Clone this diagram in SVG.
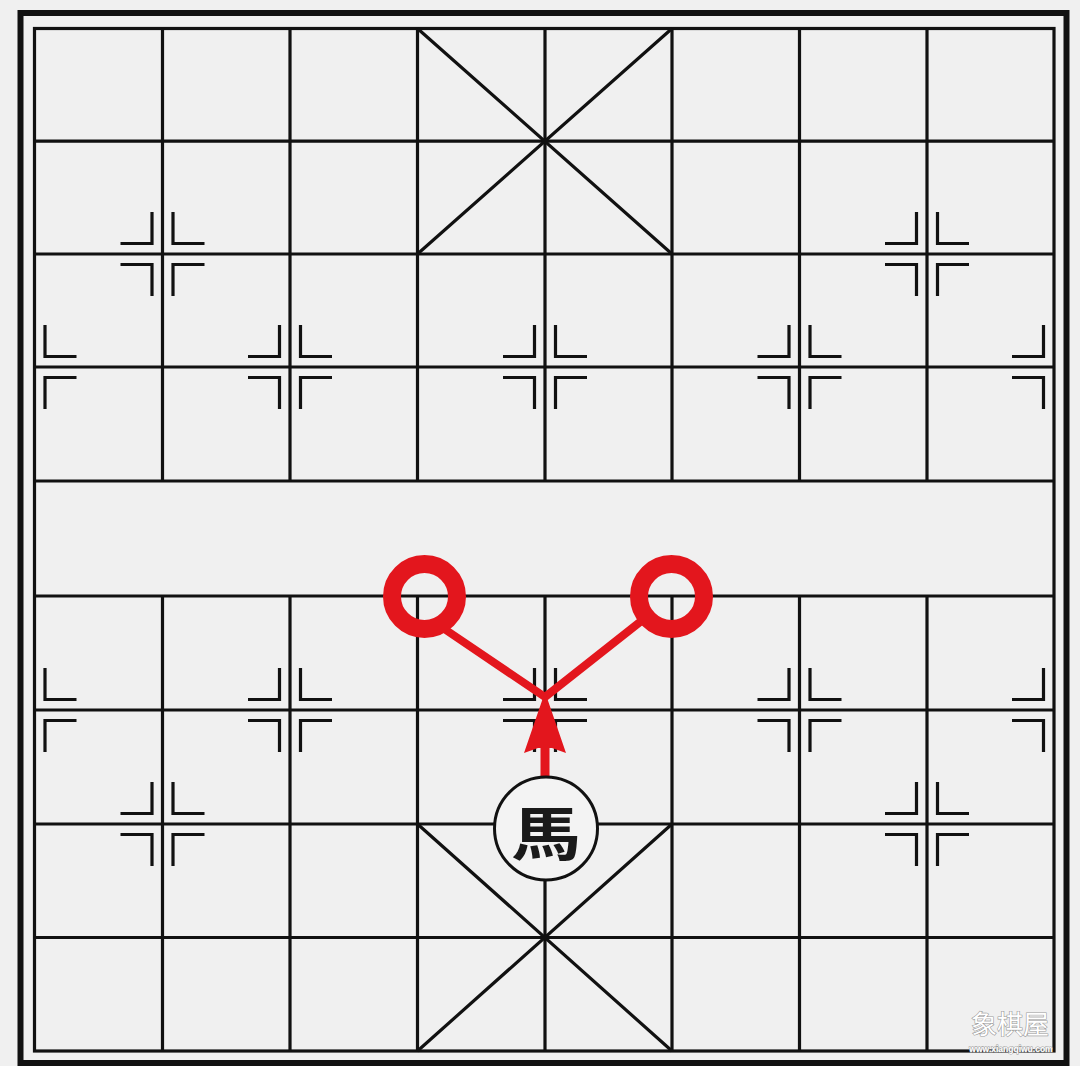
<svg xmlns="http://www.w3.org/2000/svg" width="1080" height="1066" viewBox="0 0 1080 1066">
  <style>
    .ln{stroke:#111;stroke-width:3.2;fill:none;stroke-linecap:butt}
    .mk{stroke:#111;stroke-width:3.2;fill:none}
    .red{stroke:#e3161d;fill:none}
    .wm{font-family:"Noto Sans CJK SC","Noto Sans",sans-serif;fill:#ffffff;stroke:#9a9a9a;paint-order:stroke}
  </style>
  <defs>
    <path id="mkL" class="mk" d="M-42 -10.5H-10.5V-42M-42 10.5H-10.5V42"/>
    <path id="mkR" class="mk" d="M42 -10.5H10.5V-42M42 10.5H10.5V42"/>
  </defs>
  <rect width="1080" height="1066" fill="#f0f0f0"/>
  <g id="board">
    <rect x="20.5" y="13" width="1046" height="1050" fill="none" stroke="#111" stroke-width="6"/>
    <rect x="34.5" y="28.5" width="1019.5" height="1022.5" class="ln"/>
    <g id="rows">
      <path class="ln" d="M34.5 141.2H1054M34.5 254H1054M34.5 367H1054M34.5 481H1054M34.5 596H1054M34.5 710H1054M34.5 824H1054M34.5 937.5H1054"/>
    </g>
    <g id="cols">
      <path class="ln" d="M162.5 28.5V481M290 28.5V481M417.5 28.5V481M545 28.5V481M672 28.5V481M799.5 28.5V481M927 28.5V481"/>
      <path class="ln" d="M162.5 596V1051M290 596V1051M417.5 596V1051M545 596V1051M672 596V1051M799.5 596V1051M927 596V1051"/>
    </g>
    <g id="palaces">
      <path class="ln" d="M417.5 28.5L672 254M672 28.5L417.5 254M417.5 824L672 1051M672 824L417.5 1051"/>
    </g>
    <g id="markers">
      <use href="#mkL" x="162.5" y="254"/><use href="#mkR" x="162.5" y="254"/>
      <use href="#mkL" x="927" y="254"/><use href="#mkR" x="927" y="254"/>
      <use href="#mkR" x="34.5" y="367"/>
      <use href="#mkL" x="290" y="367"/><use href="#mkR" x="290" y="367"/>
      <use href="#mkL" x="545" y="367"/><use href="#mkR" x="545" y="367"/>
      <use href="#mkL" x="799.5" y="367"/><use href="#mkR" x="799.5" y="367"/>
      <use href="#mkL" x="1054" y="367"/>
      <use href="#mkR" x="34.5" y="710"/>
      <use href="#mkL" x="290" y="710"/><use href="#mkR" x="290" y="710"/>
      <use href="#mkL" x="545" y="710"/><use href="#mkR" x="545" y="710"/>
      <use href="#mkL" x="799.5" y="710"/><use href="#mkR" x="799.5" y="710"/>
      <use href="#mkL" x="1054" y="710"/>
      <use href="#mkL" x="162.5" y="824"/><use href="#mkR" x="162.5" y="824"/>
      <use href="#mkL" x="927" y="824"/><use href="#mkR" x="927" y="824"/>
    </g>
  </g>
  <g id="connectors">
    <path class="red" stroke-width="8" d="M440 626L545 697M640 622L545 697"/>
    <path class="red" stroke-width="9" d="M545 745V779"/>
    <polygon fill="#e3161d" points="545,692 566,753 552,748 538,748 524,753"/>
  </g>
  <g id="target-left">
    <circle cx="424.5" cy="596.5" r="32.5" class="red" stroke-width="18"/>
  </g>
  <g id="target-right">
    <circle cx="671.5" cy="596.5" r="32.5" class="red" stroke-width="18"/>
  </g>
  <g id="horse">
    <circle cx="546" cy="828.5" r="51.5" fill="#f3f3f3" stroke="#111" stroke-width="3"/>
    <text transform="translate(546 830) scale(1.2 1)" text-anchor="middle" dominant-baseline="central" font-family="'Noto Sans CJK TC','Noto Sans CJK SC',sans-serif" font-weight="700" font-size="58" fill="#1a1a1a">馬</text>
  </g>
  <g id="watermark" text-anchor="middle">
    <text class="wm" x="1010" y="1034" font-size="26" stroke-width="1.2">象棋屋</text>
    <text class="wm" x="1011" y="1052" font-size="8.5" stroke-width="1" font-weight="700" style="font-family:'Liberation Sans',sans-serif">www.xiangqiwu.com</text>
  </g>
</svg>
